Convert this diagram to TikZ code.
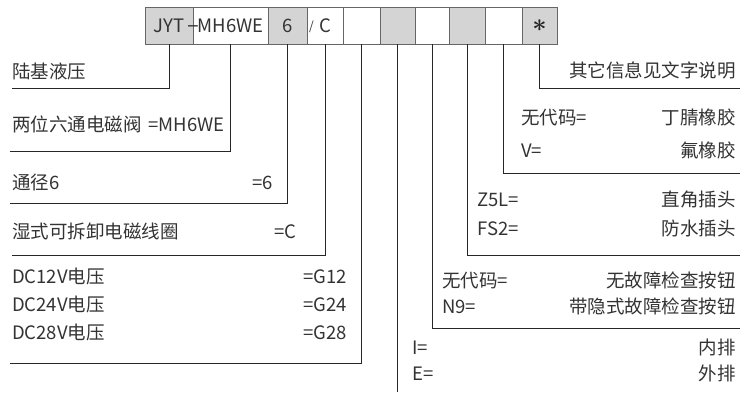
\documentclass[tikz,border=0pt]{standalone}
\usepackage{fontspec}
\setmainfont{Noto Sans CJK SC}
\usepackage{tikz}
\definecolor{boxgray}{HTML}{D4D4D4}
\definecolor{txtgray}{HTML}{333333}
\tikzset{
  codebox/.style={draw=black!60, line width=0.8pt, minimum height=37pt, inner sep=0pt, outer sep=0pt,
    text=txtgray, font=\fontsize{18.5pt}{21pt}\selectfont},
  conn/.style={draw=black!85, line width=0.9pt},
  lbl/.style={inner sep=0pt, text=txtgray, text height=16.3pt, text depth=2.2pt,
    font=\fontsize{18.5pt}{21pt}\selectfont},
  sepmark/.style={inner sep=0pt, text=txtgray},
}

\begin{document}
\begin{tikzpicture}[x=1pt,y=-1pt]
  \useasboundingbox (0,0) rectangle (740,392);
  % code boxes
  \foreach \name/\xa/\xb/\fc/\txt in {b1/145/193/boxgray/JYT, b2/193/268/white/MH6WE,
      b3/268/307/boxgray/6, b4/307/343/white/C, b5/343/380/white/{}, b6/380/415/boxgray/{},
      b7/415/449/white/{}, b8/449/485/boxgray/{}, b9/485/522/white/{}, b10/522/557/boxgray/{}}
    \node[codebox, fill=\fc, minimum width=\xb pt-\xa pt] (\name) at ({(\xa+\xb)/2},25.5) {\txt};
  \node[sepmark, text=black!85, font=\fontsize{26pt}{26pt}\selectfont\boldmath] (star) at (b10.center) {$\ast$};
  \node[sepmark, font=\fontsize{22pt}{24pt}\selectfont] (dash) at (193,29) {–};
  \node[sepmark, font=\fontsize{12pt}{14pt}\selectfont] (slash) at (311.5,27) {/};

  % end points of the leads
  \coordinate (p1) at (12,88);
  \coordinate (p2) at (10,151);
  \coordinate (p3) at (10,203);
  \coordinate (p4) at (12,255);
  \coordinate (p5) at (10,363);
  \coordinate (p6) at (398,392);
  \coordinate (p7) at (740,328);
  \coordinate (p8) at (740,255);
  \coordinate (p9) at (740,173);
  \coordinate (p10) at (740,88);
  % leads
  \foreach \i in {1,2,3,4,5,7,8,9,10}
    \draw[conn] (b\i.south) |- (p\i);
  \draw[conn] (b6.south) -- (b6.south |- p6);

  % left labels
  \node[lbl, anchor=west] (t1) at (12,71) {陆基液压};
  \node[lbl, anchor=west] (t2) at (12,124) {两位六通电磁阀};
  \node[lbl, anchor=east] (v2) at (225,124) {=MH6WE};
  \node[lbl, anchor=west] (t3) at (12,182) {通径6};
  \node[lbl, anchor=east] (v3) at (273,182) {=6};
  \node[lbl, anchor=west] (t4) at (12,231) {湿式可拆卸电磁线圈};
  \node[lbl, anchor=east] (v4) at (297,231) {=C};
  \foreach \v/\y in {12/276, 24/304, 28/332} {
    \node[lbl, anchor=west] (t5\v) at (12,\y) {DC\v V电压};
    \node[lbl, anchor=east] (v5\v) at (347,\y) {=G\v};
  }

  % right labels
  \node[lbl, anchor=east] (t10) at (736,70) {其它信息见文字说明};
  \foreach \k/\x/\y/\key/\val in {9a/521/117/无代码=/丁腈橡胶, 9b/521/150/V=/氟橡胶,
      8a/477/199/Z5L=/直角插头, 8b/477/228/FS2=/防水插头,
      7a/442/280/无代码=/无故障检查按钮, 7b/442/306/N9=/带隐式故障检查按钮,
      6a/412/347/I=/内排, 6b/412/373/E=/外排} {
    \node[lbl, anchor=west] (k\k) at (\x,\y) {\key};
    \node[lbl, anchor=east] (v\k) at (736,\y) {\val};
  }
\end{tikzpicture}
\end{document}
